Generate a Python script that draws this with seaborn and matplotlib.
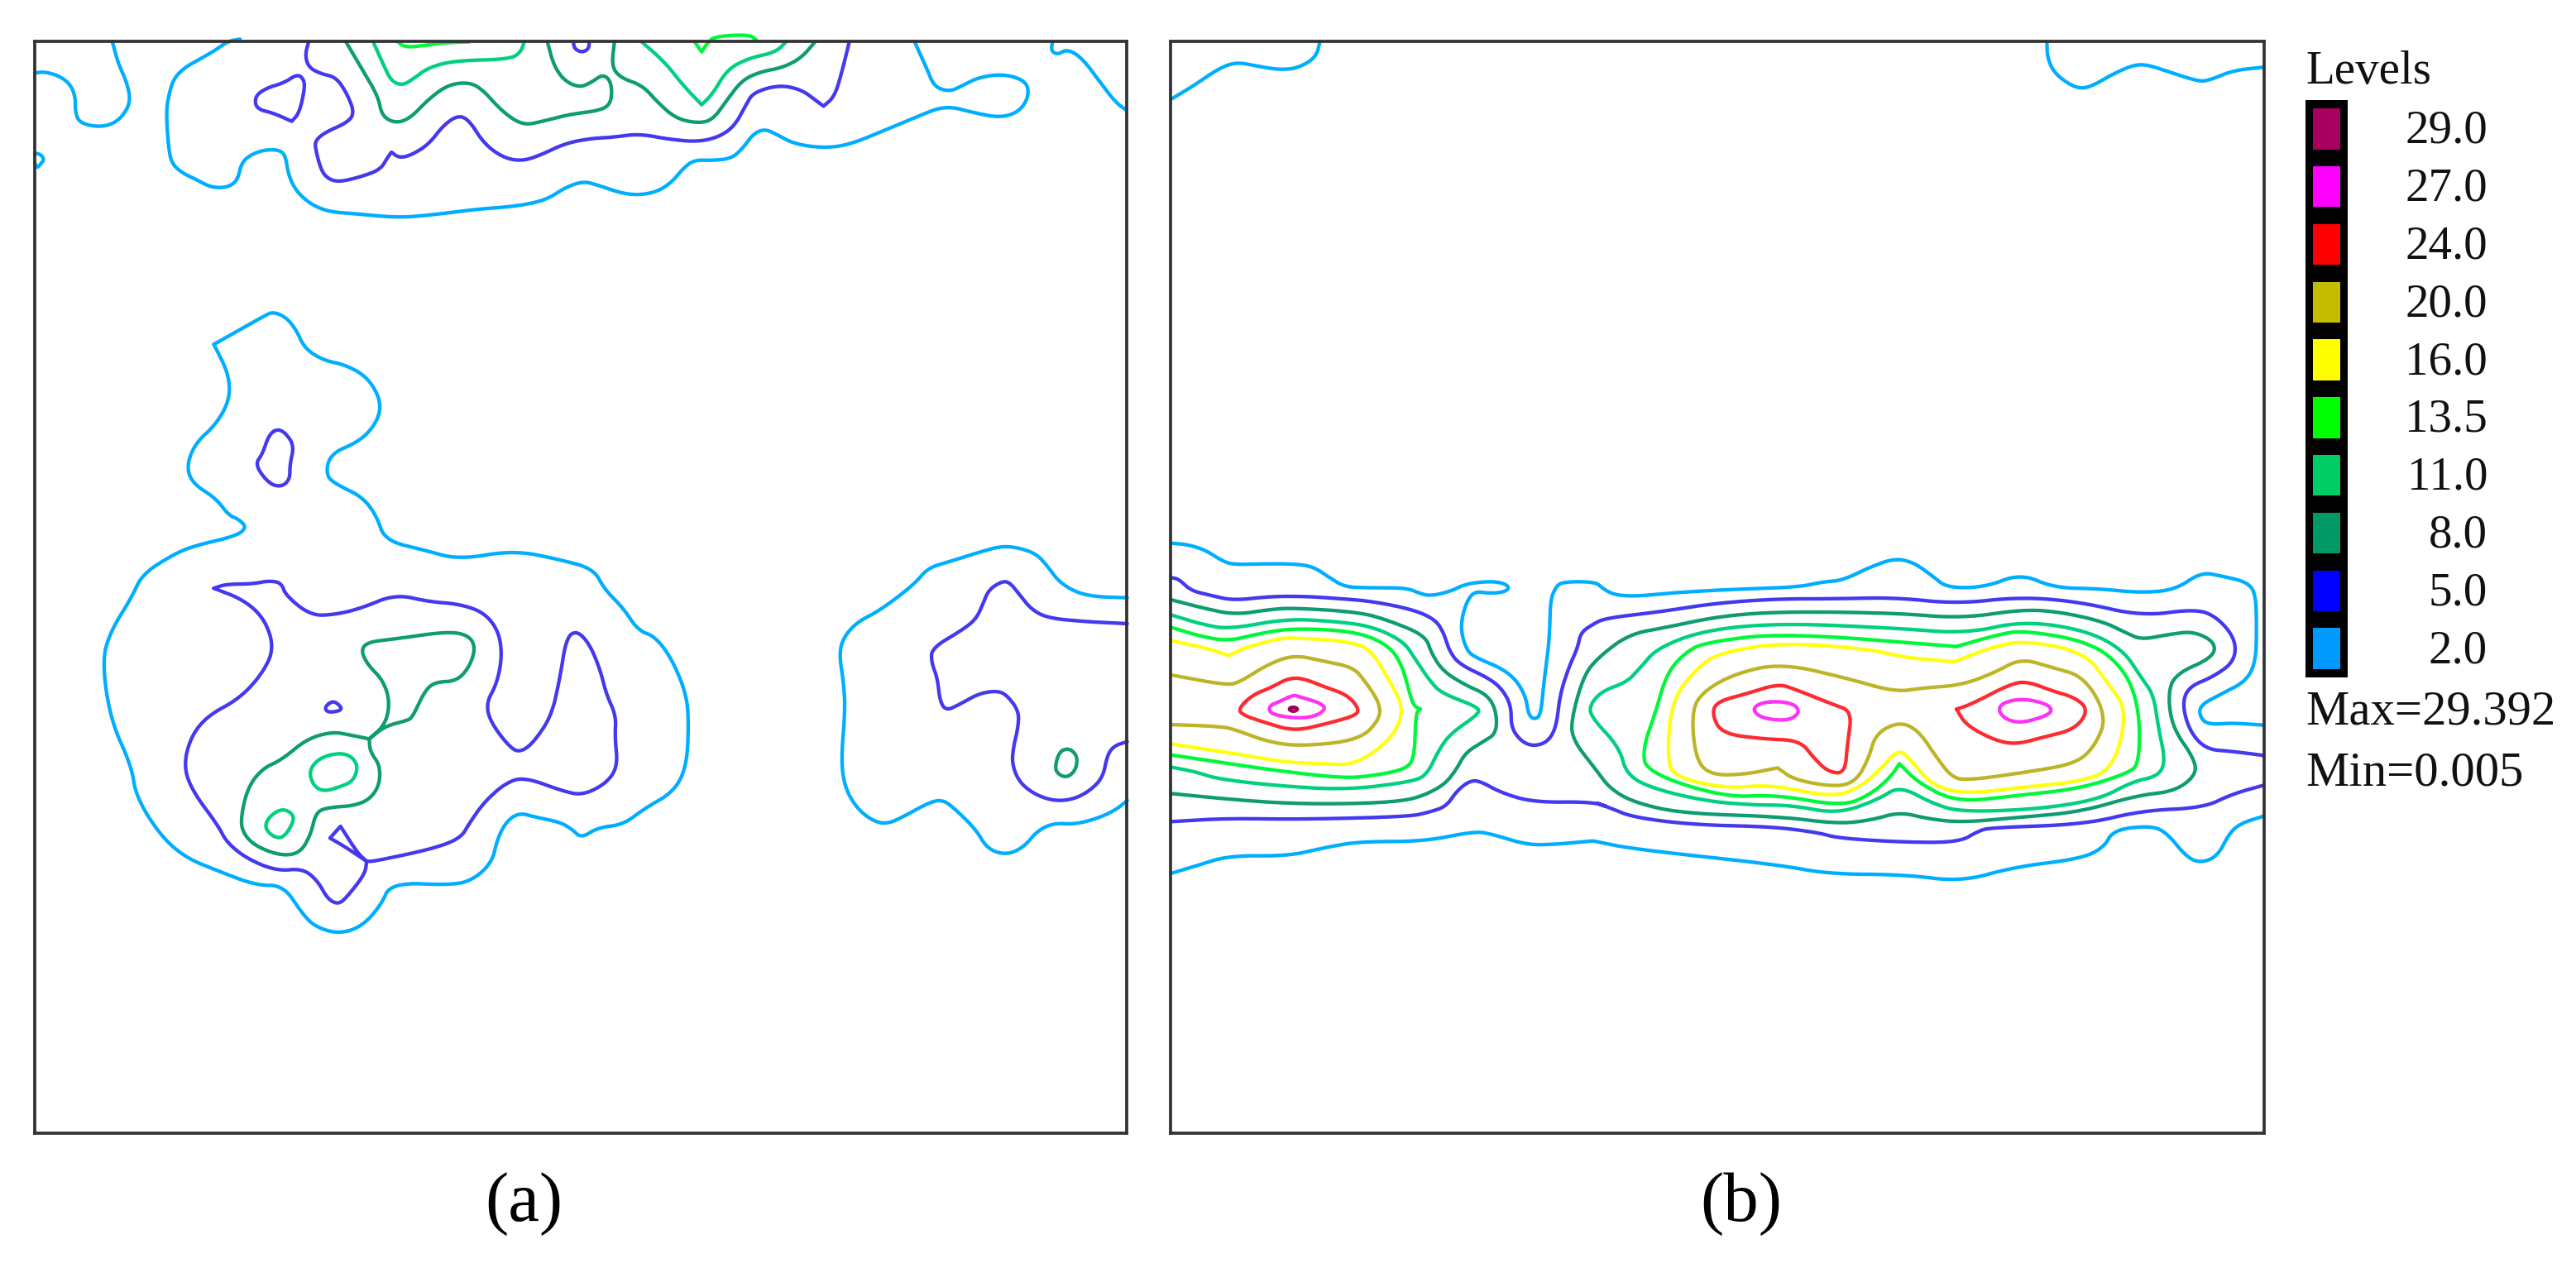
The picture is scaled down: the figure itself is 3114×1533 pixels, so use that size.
import numpy as np
import matplotlib
matplotlib.use("Agg")
import matplotlib.pyplot as plt
import matplotlib.transforms as mtrans
import seaborn as sns

sns.set_theme(style="white")
plt.rcParams['font.family'] = ['Liberation Serif', 'DejaVu Serif']

W, H, DPI = 3114, 1533, 100

LEVEL_LABELS = ["29.0", "27.0", "24.0", "20.0", "16.0", "13.5", "11.0", "8.0", "5.0", "2.0"]
SWATCH_COLORS = ["#A8005E", "#FF00FF", "#FF0000", "#C4BC00", "#FFFF00", "#00FF00", "#00CC66", "#009966", "#0000FF", "#0099FF"]
LINE_COLORS = {"29.0": "#9C0058", "27.0": "#FF30F8", "24.0": "#FF2A30", "20.0": "#BDB528", "16.0": "#FFFF10",
               "13.5": "#00F83A", "11.0": "#00D080", "8.0": "#0E9C70", "5.0": "#4438F0", "2.0": "#00AEFF"}

# Contours are read from enlarged views; each view has an origin and a scale (x0, y0, sx, sy)
V1 = (0, 20, 1.12, 3)
V2 = (80, 350, 1.96, 1.96)
V3 = (980, 620, 3, 3)
V4 = (1400, 640, 2.8, 3)
V5 = (1860, 660, 1.742, 3)
V7 = (1400, 40, 3, 3)
V8 = (2460, 40, 3, 3)

# ---------- panel (a) ----------
a_top_c1 = [(47,205),(60,200),(80,215),(95,245),(102,290),(102,350),(108,385),(130,400),(150,393),(165,365),(177,310),(172,240),(160,170),(152,90)]
a_top_c2 = [(47,495),(55,500),(60,518),(55,535),(50,550),(47,530)]
a_top_c3 = [(325,82),(308,90),(290,125),(270,155),(250,185),(235,225),(228,290),(225,350),(228,470),(232,530),(245,565),(265,590),(282,615),(297,622),(312,615),(322,590),(327,530),(340,500),(360,482),(380,485),(387,510),(390,570),(400,630),(420,680),(445,708),(480,715),(540,730),(590,718),(640,700),(700,688),(740,665),(765,620),(790,597),(810,612),(840,640),(865,648),(890,635),(910,600),(925,550),(940,520),(965,522),(990,515),(1005,480),(1020,425),(1035,408),(1050,425),(1075,462),(1115,477),(1150,465),(1200,410),(1240,365),(1280,322),(1320,350),(1355,367),(1380,345),(1393,290),(1390,235),(1360,208),(1325,220),(1300,255),(1285,272),(1265,255),(1255,190),(1238,90)]
a_top_c4 = [(1425,90),(1423,125),(1432,138),(1445,118),(1465,150),(1490,240),(1510,310),(1525,340)]
a_top_p1 = [(418,90),(413,140),(418,185),(435,208),(455,220),(470,280),(480,350),(470,385),(440,420),(427,450),(427,480),(435,560),(445,590),(460,600),(490,580),(515,555),(525,510),(530,492),(530,492),(540,512),(555,505),(580,465),(600,395),(620,358),(635,375),(655,460),(680,510),(705,525),(730,505),(765,460),(800,442),(830,438),(865,425),(905,445),(945,455),(975,435),(995,395),(1010,320),(1020,275),(1055,248),(1085,265),(1105,305),(1115,325),(1115,325),(1130,290),(1140,200),(1150,90)]
a_top_p2 = [(403,208),(385,240),(360,260),(345,290),(347,335),(370,350),(395,380),(395,380),(405,350),(412,270),(412,230),(403,208)]
a_top_p3 = [(776,90),(778,118),(788,130),(797,118),(798,90)]
a_top_g1 = [(468,90),(490,190),(512,290),(517,360),(535,387),(555,370),(580,300),(605,250),(630,238),(650,255),(680,345),(708,395),(735,380),(770,355),(815,340),(828,310),(828,240),(817,208),(800,240),(785,257),(765,235),(750,180),(741,90)]
a_top_g2 = [(832,90),(828,180),(840,222),(870,250),(890,310),(915,370),(945,387),(965,375),(985,300),(1005,230),(1030,200),(1060,185),(1085,150),(1104,90)]
a_top_h1 = [(505,90),(520,180),(530,235),(545,250),(560,225),(580,185),(615,160),(690,155),(705,130),(710,90)]
a_top_h2 = [(868,90),(900,165),(925,250),(950,320),(950,320),(965,280),(985,190),(1015,150),(1050,130),(1065,90)]
a_top_b1 = [(538,90),(548,112),(575,105),(600,95),(635,92)]
a_top_b2 = [(940,90),(950,128),(950,128),(958,95),(968,72),(1015,65),(1025,88)]

a_mid_c = [(350,130),(470,62),(490,53),(520,65),(545,95),(565,140),(610,168),(660,178),(710,205),(740,250),(745,290),(725,330),(690,362),(625,390),(615,440),(640,462),(700,490),(735,535),(755,595),(850,618),(930,640),(1060,618),(1170,640),(1250,662),(1275,710),(1320,755),(1355,808),(1395,822),(1435,875),(1470,960),(1475,1030),(1470,1130),(1440,1190),(1370,1230),(1320,1268),(1260,1275),(1220,1300),(1200,1280),(1170,1262),(1110,1250),(1075,1240),(1045,1258),(1022,1300),(1010,1355),(970,1395),(920,1412),(770,1405),(745,1460),(700,1510),(645,1527),(590,1510),(560,1480),(515,1412),(450,1412),(360,1378),(280,1345),(220,1290),(165,1200),(155,1130),(105,1020),(85,880),(105,810),(155,730),(180,675),(250,630),(300,608),(400,585),(428,565),(410,545),(385,535),(355,495),(300,460),(285,420),(305,365),(355,320),(388,260),(385,200),(350,130)]
a_mid_p1 = [(500,330),(480,345),(465,390),(447,415),(480,460),(510,468),(530,450),(530,415),(540,370),(520,340),(500,330)]
a_mid_p2 = [(350,708),(380,698),(440,698),(480,690),(510,695),(520,725),(580,773),(640,770),(700,755),(780,722),(860,740),(930,745),(990,765),(1025,810),(1033,870),(1020,935),(995,980),(1005,1025),(1055,1090),(1080,1095),(1110,1070),(1150,1010),(1170,920),(1185,825),(1210,808),(1240,840),(1265,900),(1280,960),(1303,1010),(1300,1060),(1307,1130),(1280,1170),(1225,1198),(1180,1190),(1085,1155),(1040,1170),(990,1215),(955,1265),(935,1300),(870,1325),(730,1355),(712,1355),(712,1355),(660,1320),(625,1300),(625,1300),(650,1272),(650,1272),(690,1335),(712,1355),(712,1355),(708,1385),(665,1440),(645,1457),(620,1445),(595,1400),(560,1372),(500,1378),(430,1350),(380,1310),(360,1270),(300,1190),(278,1130),(295,1060),(335,1010),(410,970),(465,910),(493,850),(470,780),(420,735),(350,708)]
a_mid_p3 = [(630,975),(612,990),(620,1003),(655,997),(645,982),(630,975)]
a_mid_g1 = [(718,1065),(755,1035),(805,1022),(820,1015),(850,950),(875,930),(925,928),(955,895),(970,850),(955,820),(905,810),(780,828),(715,835),(698,855),(715,890),(750,925),(767,975),(757,1030),(718,1065)]
a_mid_g2 = [(718,1065),(720,1095),(745,1130),(740,1185),(700,1222),(610,1228),(590,1245),(580,1290),(555,1335),(510,1342),(450,1320),(420,1290),(413,1255),(430,1180),(465,1135),(510,1115),(570,1065),(630,1048),(670,1055),(718,1065)]
a_mid_h1 = [(645,1098),(600,1110),(575,1140),(585,1175),(610,1190),(650,1178),(680,1165),(692,1130),(675,1105),(645,1098)]
a_mid_h2 = [(510,1230),(480,1250),(470,1275),(490,1297),(515,1300),(540,1260),(535,1240),(510,1230)]

a_right_c = [(1148,308),(1040,305),(965,290),(900,250),(860,195),(820,150),(760,128),(695,120),(620,140),(500,178),(425,200),(375,260),(250,355),(170,395),(120,450),(103,510),(120,620),(125,720),(110,900),(125,1000),(170,1075),(230,1120),(280,1128),(340,1100),(430,1050),(480,1040),(530,1080),(600,1150),(635,1210),(680,1235),(730,1235),(780,1205),(820,1155),(880,1125),(960,1130),(1050,1105),(1110,1075),(1148,1043)]
a_right_p = [(1148,402),(1000,395),(860,382),(800,350),(760,300),(720,250),(690,250),(645,280),(625,330),(600,385),(550,425),(440,490),(437,540),(460,600),(468,680),(490,718),(540,695),(610,655),(680,645),(715,665),(755,720),(752,780),(735,850),(730,910),(755,975),(810,1020),(880,1045),(950,1040),(1010,1010),(1060,960),(1075,880),(1100,845),(1148,830)]
a_right_g = [(925,855),(900,870),(885,925),(900,950),(930,960),(960,935),(968,890),(950,862),(925,855)]

# ---------- panel (b) ----------
b_corner_l = [(50,238),(130,190),(210,135),(260,112),(300,108),(350,118),(430,132),(490,130),(540,110),(575,80),(587,30)]
b_corner_r = [(43,30),(45,90),(70,145),(130,190),(175,202),(220,185),(280,150),(350,118),(400,113),(470,135),(590,175),(630,172),(720,135),(828,124)]

b_c_up_v4 = [(43,50),(100,55),(160,75),(210,110),(250,128),(350,125),(460,125),(525,135),(580,175),(630,208),(700,212),(840,212),(880,230),(920,242),(990,225),(1040,198),(1120,188),(1170,195),(1190,212),(1170,228),(1120,232),(1075,225),(1050,250),(1030,310),(1025,370),(1045,440),(1075,465),(1165,505),(1215,550),(1245,610),(1253,670),(1272,690),(1295,675),(1305,560),(1325,400),(1327,260),(1345,210)]
b_c_up_v5 = [(50,130),(120,130),(135,155),(160,178),(205,183),(280,170),(400,158),(545,150),(600,130),(640,125),(700,75),(750,45),(790,60),(830,110),(860,152),(940,150),(1015,100),(1085,152),(1180,155),(1265,170),(1340,160),(1395,95),(1440,110),(1490,130),(1510,170),(1512,300),(1510,420),(1490,490),(1440,535),(1390,580),(1395,630),(1415,648),(1460,642),(1527,650)]
b_p_up_v4 = [(43,175),(70,180),(110,222),(180,240),(255,258),(380,243),(500,243),(600,250),(720,260),(860,290),(935,325),(965,370),(985,440),(1020,490),(1120,540),(1165,580),(1195,640),(1195,720),(1230,770),(1272,787),(1320,770),(1348,715),(1360,600),(1390,500),(1420,430),(1430,375),(1470,345)]
b_p_up_v5 = [(140,262),(260,238),(370,208),(500,192),(620,192),(750,187),(880,210),(1015,185),(1140,203),(1270,255),(1385,228),(1430,260),(1468,340),(1465,420),(1420,475),(1370,510),(1355,570),(1370,670),(1405,738),(1460,745),(1527,760)]
b_p_lo_v4 = [(43,1060),(230,1048),(480,1052),(850,1042),(920,1025),(975,1005),(1010,950),(1050,915),(1085,910),(1160,955),(1270,990),(1470,988),(1530,1010)]
b_p_lo_v5 = [(115,928),(150,950),(200,985),(330,1012),(490,1018),(590,1040),(630,1060),(770,1075),(885,1075),(925,1035),(950,1022),(1150,1010),(1270,960),(1400,950),(1460,900),(1527,868)]
b_c_lo_v4 = [(43,1248),(130,1220),(240,1183),(440,1185),(560,1155),(680,1132),(900,1132),(1070,1095),(1130,1105),(1250,1145),(1350,1142),(1470,1130)]
b_c_lo_v5 = [(115,1070),(200,1100),(500,1155),(610,1190),(770,1192),(890,1218),(1000,1165),(1140,1135),(1190,1095),(1210,1030),(1285,1015),(1320,1035),(1365,1130),(1395,1150),(1430,1125),(1455,1040),(1480,1005),(1527,980)]

b_8_left = [(43,255),(150,285),(260,310),(380,290),(460,285),(680,300),(780,330),(905,385),(925,450),(965,515),(1040,565),(1115,600),(1145,660),(1145,740),(1100,770),(1040,810),(1010,870),(970,925),(900,965),(830,985),(680,995),(450,995),(250,980),(43,958)]
b_8_right = [(1270,340),(1240,318),(1190,275),(1100,240),(1020,230),(890,263),(750,243),(510,238),(380,255),(270,295),(190,320),(125,405),(95,470),(70,620),(70,700),(120,810),(150,880),(200,930),(300,970),(510,982),(630,1008),(700,995),(760,965),(820,990),(890,1003),(1010,985),(1140,965),(1260,905),(1340,890),(1385,830),(1380,770),(1335,660),(1325,540),(1340,465),(1420,405),(1425,350),(1380,310),(1330,320),(1270,340)]
b_11_left = [(43,310),(150,345),(240,362),(430,325),(580,332),(720,350),(830,405),(870,470),(920,550),(960,595),(1085,645),(1085,670),(990,740),(950,800),(910,890),(860,915),(640,945),(400,930),(200,905),(130,880),(43,862)]
b_11_right = [(900,318),(1020,272),(1150,305),(1230,375),(1270,480),(1295,540),(1305,660),(1320,780),(1305,835),(1250,855),(1180,920),(1050,955),(890,965),(830,935),(760,870),(715,920),(630,972),(530,940),(450,940),(350,925),(240,880),(185,830),(170,730),(110,620),(108,575),(135,525),(185,495),(215,440),(250,370),(350,305),(510,280),(750,298),(900,318)]
b_13_left = [(43,355),(150,390),(240,405),(340,378),(460,358),(670,370),(780,420),(825,490),(850,590),(865,640),(888,652),(888,652),(872,665),(868,825),(840,870),(720,895),(620,902),(400,875),(230,848),(43,818)]
b_13_right = [(880,365),(515,315),(350,350),(310,385),(270,460),(245,610),(220,730),(225,820),(390,912),(500,902),(640,945),(700,900),(740,840),(760,790),(760,790),(800,860),(880,930),(1010,905),(1140,880),(1240,825),(1265,790),(1265,590),(1235,450),(1165,350),(1020,305),(960,325),(880,365)]
b_16_left = [(43,403),(160,430),(240,458),(240,458),(290,430),(400,398),(460,392),(680,410),(735,460),(780,545),(825,630),(820,700),(770,780),(660,855),(560,850),(430,845),(300,820),(43,778)]
b_16_right = [(875,420),(770,405),(700,375),(510,350),(375,390),(330,450),(280,560),(270,780),(290,840),(395,880),(490,865),(625,915),(690,860),(730,790),(760,735),(790,790),(830,870),(900,900),(1020,875),(1140,855),(1210,810),(1240,600),(1200,500),(1150,385),(1020,342),(950,370),(875,420)]
b_20_left = [(43,528),(230,565),(275,555),(370,490),(460,455),(560,478),(660,500),(700,550),(750,630),(750,690),(680,765),(480,787),(370,770),(270,730),(220,715),(43,708)]
b_20_right = [(750,530),(650,480),(510,425),(410,465),(345,530),(322,600),(330,770),(360,830),(430,830),(503,805),(503,805),(540,850),(630,875),(670,850),(695,770),(710,680),(760,637),(800,670),(835,760),(870,840),(905,850),(1030,820),(1130,790),(1170,730),(1197,620),(1150,475),(1080,440),(1015,408),(960,460),(890,505),(810,515),(750,530)]
b_24_left = [(270,652),(320,600),(380,575),(440,540),(490,540),(560,570),(640,600),(680,650),(670,675),(570,705),(460,732),(360,700),(290,675),(270,652)]
b_24_mid = [(505,500),(440,535),(375,565),(365,610),(385,680),(470,700),(550,705),(580,770),(610,820),(645,825),(650,720),(660,600),(620,575),(540,520),(505,500)]
b_24_right = [(880,592),(910,575),(1000,495),(1035,495),(1080,525),(1130,550),(1158,595),(1130,665),(1060,695),(1005,720),(960,705),(900,650),(880,592)]
b_27_left = [(458,600),(410,625),(375,640),(380,670),(460,685),(530,680),(570,650),(545,628),(480,608),(458,600)]
b_27_mid = [(505,563),(465,570),(450,595),(470,625),(525,635),(550,605),(540,575),(505,563)]
b_27_right = [(1018,553),(975,570),(968,600),(985,630),(1015,642),(1060,622),(1083,600),(1070,572),(1018,553)]
b_29 = [(440,652),(458,643),(475,652),(458,662),(440,652)]

PANEL_A = [
    ("2.0", V1, a_top_c1), ("2.0", V1, a_top_c2), ("2.0", V1, a_top_c3), ("2.0", V1, a_top_c4),
    ("5.0", V1, a_top_p1), ("5.0", V1, a_top_p2), ("5.0", V1, a_top_p3),
    ("8.0", V1, a_top_g1), ("8.0", V1, a_top_g2),
    ("11.0", V1, a_top_h1), ("11.0", V1, a_top_h2),
    ("13.5", V1, a_top_b1), ("13.5", V1, a_top_b2),
    ("2.0", V2, a_mid_c), ("5.0", V2, a_mid_p1), ("5.0", V2, a_mid_p2), ("5.0", V2, a_mid_p3),
    ("8.0", V2, a_mid_g1), ("8.0", V2, a_mid_g2), ("11.0", V2, a_mid_h1), ("11.0", V2, a_mid_h2),
    ("2.0", V3, a_right_c), ("5.0", V3, a_right_p), ("8.0", V3, a_right_g),
]
PANEL_B = [
    ("2.0", V7, b_corner_l), ("2.0", V8, b_corner_r),
    ("2.0", [V4, V5], [b_c_up_v4, b_c_up_v5]), ("5.0", [V4, V5], [b_p_up_v4, b_p_up_v5]),
    ("5.0", [V4, V5], [b_p_lo_v4, b_p_lo_v5]), ("2.0", [V4, V5], [b_c_lo_v4, b_c_lo_v5]),
    ("8.0", V4, b_8_left), ("8.0", V5, b_8_right), ("11.0", V4, b_11_left), ("11.0", V5, b_11_right),
    ("13.5", V4, b_13_left), ("13.5", V5, b_13_right), ("16.0", V4, b_16_left), ("16.0", V5, b_16_right),
    ("20.0", V4, b_20_left), ("20.0", V5, b_20_right), ("24.0", V4, b_24_left), ("24.0", V5, b_24_mid),
    ("24.0", V5, b_24_right), ("27.0", V4, b_27_left), ("27.0", V5, b_27_mid), ("27.0", V5, b_27_right),
    ("29.0", V4, b_29),
]
# closed contours whose starting point is a sharp tip
SHARP_START = [a_mid_c, a_mid_p2, a_mid_g1, a_mid_g2, b_24_right, b_13_right, b_16_right]


def to_page(view, pts):
    p = np.asarray(pts, float)
    return np.column_stack([view[0] + p[:, 0] / view[2], view[1] + p[:, 1] / view[3]])


def smooth(p, closed, n=3):
    """Corner cutting, so that the traced polylines draw as round curves."""
    for _ in range(n):
        a, b = p[:-1], p[1:]
        q = np.empty((2 * len(a), 2))
        q[0::2] = 0.75 * a + 0.25 * b
        q[1::2] = 0.25 * a + 0.75 * b
        if closed:
            p = np.vstack([q, q[:1]])
        else:
            p = np.vstack([p[:1], q, p[-1:]])
    return p


def axes_px(fig, l, t, r, b):
    return fig.add_axes([l / W, 1 - b / H, (r - l) / W, (b - t) / H])


def draw_panel(ax, contours, box):
    l, t, r, b = box
    for level, view, pts in contours:
        if isinstance(view, list):
            xy = np.vstack([to_page(v, s) for v, s in zip(view, pts)])
        else:
            xy = to_page(view, pts)
        closed = np.allclose(xy[0], xy[-1]) and not any(pts is s for s in SHARP_START)
        xy = smooth(xy, closed)
        sns.lineplot(x=xy[:, 0], y=xy[:, 1], sort=False, estimator=None, errorbar=None, ax=ax,
                     color=LINE_COLORS[level], linewidth=3.1, legend=False, clip_on=False,
                     solid_joinstyle="round", zorder=2)
    ax.set_xlim(l, r)
    ax.set_ylim(b, t)
    ax.set_xticks([])
    ax.set_yticks([])
    ax.set_xlabel("")
    ax.set_ylabel("")
    for s in ax.spines.values():
        s.set_visible(True)
        s.set_color("#333333")
        s.set_linewidth(2.7)
        s.set_zorder(3)


fig = plt.figure(figsize=(W / DPI, H / DPI), dpi=DPI, facecolor="white")

BOX_A = (42, 50, 1362, 1370)
BOX_B = (1415, 50, 2737, 1370)
ax_a = axes_px(fig, *BOX_A)
ax_b = axes_px(fig, *BOX_B)
draw_panel(ax_a, PANEL_A, BOX_A)
draw_panel(ax_b, PANEL_B, BOX_B)

# Colour key: bars on a black ground, with the level labels as tick labels
ax_k = axes_px(fig, 2787, 121, 2838, 819)
ax_k.set_facecolor("black")
sns.barplot(x=[1] * len(LEVEL_LABELS), y=LEVEL_LABELS, hue=LEVEL_LABELS, palette=SWATCH_COLORS,
            order=LEVEL_LABELS, hue_order=LEVEL_LABELS, dodge=False, width=0.71, legend=False,
            saturation=1, ax=ax_k, orient="h", linewidth=0)
ax_k.set_xlim(-0.29, 1.29)
ax_k.set_ylim(len(LEVEL_LABELS) - 0.5, -0.5)
ax_k.set_xticks([])
ax_k.set_xlabel("")
ax_k.set_ylabel("")
ax_k.yaxis.tick_right()
ax_k.tick_params(axis="y", length=0, pad=(3007 - 2838) * 72 / DPI, labelsize=41, labelcolor="#111111")
lift = mtrans.ScaledTranslation(0, 3 / DPI, fig.dpi_scale_trans)
for t in ax_k.get_yticklabels():
    t.set_ha("right")
    t.set_transform(t.get_transform() + lift)
for s in ax_k.spines.values():
    s.set_visible(False)

fig.text(2787 / W, 1 - 87 / H, "Levels", fontsize=41, color="#111111", ha="left", va="center")
fig.text(2787 / W, 1 - 861 / H, "Max=29.392", fontsize=42.3, color="#111111", ha="left", va="center")
fig.text(2787 / W, 1 - 936 / H, "Min=0.005", fontsize=42.3, color="#111111", ha="left", va="center")
fig.text(633 / W, 1 - 1456 / H, "(a)", fontsize=61, color="black", ha="center", va="center")
fig.text(2105 / W, 1 - 1456 / H, "(b)", fontsize=61, color="black", ha="center", va="center")

fig.savefig("out.png", dpi=DPI, facecolor="white")
